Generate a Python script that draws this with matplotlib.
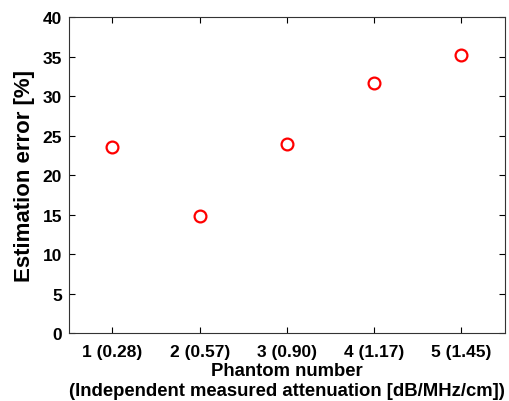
import matplotlib
matplotlib.use("Agg")
import matplotlib.pyplot as plt

plt.rcParams['font.family'] = ['Liberation Sans', 'DejaVu Sans']
plt.rcParams['font.weight'] = 'bold'

phantoms = [1, 2, 3, 4, 5]
tick_labels = ['1 (0.28)', '2 (0.57)', '3 (0.90)', '4 (1.17)', '5 (1.45)']
errors = [23.5, 14.8, 23.9, 31.6, 35.2]

fig = plt.figure(figsize=(5.10, 4.02), dpi=100)
ax = fig.add_axes([0.135, 0.169, 0.855, 0.786])

ax.plot(phantoms, errors, 'o', markersize=8.5, markerfacecolor='none',
        markeredgecolor='red', markeredgewidth=1.6, linestyle='none')

ax.set_xlim(0.5, 5.5)
ax.set_ylim(0, 40)
ax.set_xticks(phantoms)
ax.set_xticklabels(tick_labels)
ax.set_yticks(range(0, 41, 5))
ax.tick_params(direction='in', top=True, right=True, length=4, width=0.8,
               labelsize=12.5)
ax.tick_params(axis='x', pad=8)
ax.tick_params(axis='y', pad=5)
for lab in ax.get_xticklabels() + ax.get_yticklabels():
    lab.set_fontweight('bold')
for s in ax.spines.values():
    s.set_linewidth(0.8)
    s.set_color('#333333')

ax.set_xlabel('Phantom number\n(Independent measured attenuation [dB/MHz/cm])',
              fontsize=13.3, fontweight='bold', labelpad=2, linespacing=1.2)
ax.set_ylabel('Estimation error [%]', fontsize=16, fontweight='bold', labelpad=5)

fig.savefig('out.png', dpi=100)
